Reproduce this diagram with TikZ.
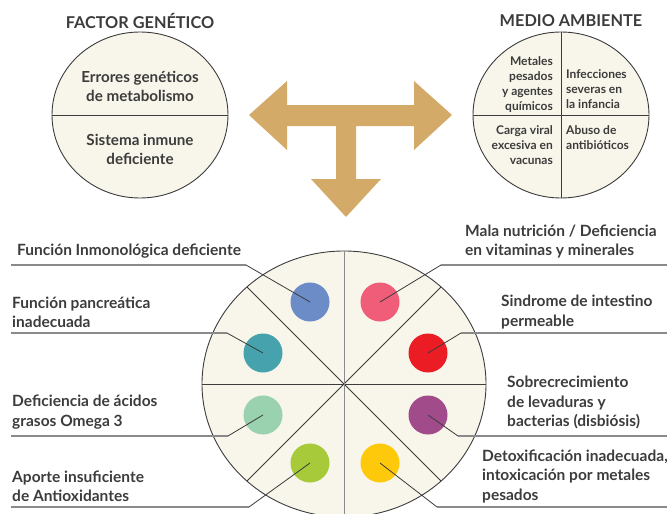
\documentclass[tikz,border=0pt]{standalone}
\usepackage{fontspec}
\setmainfont{Lato}
\usetikzlibrary{shapes.geometric,positioning}

\definecolor{cream}{HTML}{F8F5EA}
\definecolor{inkgray}{HTML}{3C3C3C}
\definecolor{leadgray}{HTML}{8A8A8A}
\definecolor{arrowgold}{HTML}{D4AA68}
\definecolor{dotblue}{HTML}{6C8CC7}
\definecolor{dotteal}{HTML}{46A3AD}
\definecolor{dotmint}{HTML}{9AD1AE}
\definecolor{dotlime}{HTML}{A6CA3A}
\definecolor{dotpink}{HTML}{EF5D78}
\definecolor{dotred}{HTML}{EC1C24}
\definecolor{dotplum}{HTML}{A14B8B}
\definecolor{dotgold}{HTML}{FFC90B}

\begin{document}
\begin{tikzpicture}[x=1pt,y=-1pt]

        % Setup the styles
        \tikzset{disk style/.style={ellipse,
                                    draw=inkgray,
                                    line width=0.9pt,
                                    fill=cream,
                                    inner sep=0pt,
                                    outer sep=0pt},
                 dot style/.style={circle,
                                   minimum size=39pt,
                                   inner sep=0pt},
                 cause text/.style={align=left,
                                    inner sep=0pt,
                                    text=inkgray,
                                    font=\bfseries\fontsize{15.5}{19.5}\selectfont},
                 disk text/.style={align=center,
                                   text=inkgray,
                                   font=\bfseries\fontsize{15.2}{19}\selectfont},
                 small text/.style={inner sep=0pt,
                                    text=inkgray,
                                    font=\bfseries\fontsize{12}{15}\selectfont},
                 title text/.style={text=inkgray,
                                    font=\bfseries\fontsize{16.3}{18}\selectfont},
                 leader/.style={draw=inkgray, line width=0.8pt},
                 shelf/.style={draw=leadgray, line width=1.3pt}}
        \useasboundingbox (0,0) rectangle (667,514);

        % Draw the two top circles
        \node[title text] at (140, 21)     (gtitle)   {FACTOR GENÉTICO};
        \node[disk style, minimum width=176pt, minimum height=166pt] at (140, 115)   (gen)   {};
        \draw[leader] (gen.west) -- (gen.east);
        \node[disk text] at (140, 86)      (err)      {Errores genéticos\\de metabolismo};
        \node[disk text] at (140, 149)     (inm)      {Sistema inmune\\deficiente};

        \node[title text] at (571, 21)     (mtitle)   {MEDIO AMBIENTE};
        \node[disk style, minimum width=176pt, minimum height=166pt] at (561, 115)   (env)   {};
        \draw[leader] (env.west) -- (env.east);
        \draw[leader] (env.north) -- (env.south);
        \node[small text, align=right, anchor=east] at (553, 85)    (met)  {Metales\\pesados\\y agentes\\químicos};
        \node[small text, align=left, anchor=west] at (566, 89)     (inf)  {Infecciones\\severas en\\la infancia};
        \node[small text, align=right, anchor=east] at (553, 145)   (vir)  {Carga viral\\excesiva en\\vacunas};
        \node[small text, align=left, anchor=west] at (566, 137.5)  (abu)  {Abuso de\\antibióticos};

        % The T-shaped arrow
        \fill[arrowgold] (249,115) -- (287,81) -- (287,105) -- (414,105) -- (414,81)
            -- (452,115) -- (414,150) -- (414,126) -- (356,126) -- (356,179)
            -- (381,179) -- (346,217) -- (311,179) -- (336,179) -- (336,126)
            -- (287,126) -- (287,150) -- cycle;

        % Draw the big circle and its sectors
        \node[disk style, minimum width=284pt, minimum height=266pt] at (344, 384)   (big)   {};
        \draw[leader] (big.west) -- (big.east);
        \draw[leader] (big.135) -- (big.-45);
        \draw[leader] (big.45) -- (big.-135);
        \draw[shelf, line width=0.9pt] (big.north) -- (big.south);

        % Draw the dots
        \node[dot style, fill=dotblue] at (310, 302)   (blue)   {};
        \node[dot style, fill=dotteal] at (263, 353)   (teal)   {};
        \node[dot style, fill=dotmint] at (263, 415)   (mint)   {};
        \node[dot style, fill=dotlime] at (310, 463)   (lime)   {};
        \node[dot style, fill=dotpink] at (380, 302)   (pink)   {};
        \node[dot style, fill=dotred]  at (428, 353)   (red)    {};
        \node[dot style, fill=dotplum] at (428, 415)   (plum)   {};
        \node[dot style, fill=dotgold] at (380, 463)   (gold)   {};

        % Elbows and ends of the leaders
        \coordinate (eblue) at (246, 265);  \coordinate (lblue) at (11, 265);
        \coordinate (eteal) at (227, 333);  \coordinate (lteal) at (11, 333);
        \coordinate (emint) at (228, 436);  \coordinate (lmint) at (11, 436);
        \coordinate (elime) at (249, 507);  \coordinate (llime) at (11, 507);
        \coordinate (epink) at (441, 265);  \coordinate (lpink) at (667, 265);
        \coordinate (ered)  at (461, 333);  \coordinate (lred)  at (667, 333);
        \coordinate (eplum) at (458, 436);  \coordinate (lplum) at (667, 436);
        \coordinate (egold) at (437, 507);  \coordinate (lgold) at (667, 507);

        % Connect the dots with their labels
        \foreach \d in {blue,teal,mint,lime,pink,red,plum,gold}{
            \draw[shelf] (e\d) -- (l\d);
            \draw[leader] (\d.center) -- (e\d);
        }

        % The causes
        \node[cause text, anchor=west] at (17, 251)     (tblue)  {Función Inmonológica deficiente};
        \node[cause text, anchor=west] at (12, 312.5)   (tteal)  {Función pancreática\\inadecuada};
        \node[cause text, anchor=west] at (12, 412)     (tmint)  {Deficiencia de ácidos\\grasos Omega 3};
        \node[cause text, anchor=west] at (12, 486.5)   (tlime)  {Aporte insuficiente\\de Antioxidantes};
        \node[cause text, anchor=west] at (465, 241.5)  (tpink)  {Mala nutrición / Deficiencia\\en vitaminas y minerales};
        \node[cause text, anchor=west] at (501, 312)    (tred)   {Sindrome de intestino\\permeable};
        \node[cause text, anchor=west] at (507, 402.5)  (tplum)  {Sobrecrecimiento\\de levaduras y\\bacterias (disbiósis)};
        \node[cause text, anchor=west] at (482, 476.5)  (tgold)  {Detoxificación inadecuada,\\intoxicación por metales\\pesados};
\end{tikzpicture}
\end{document}
